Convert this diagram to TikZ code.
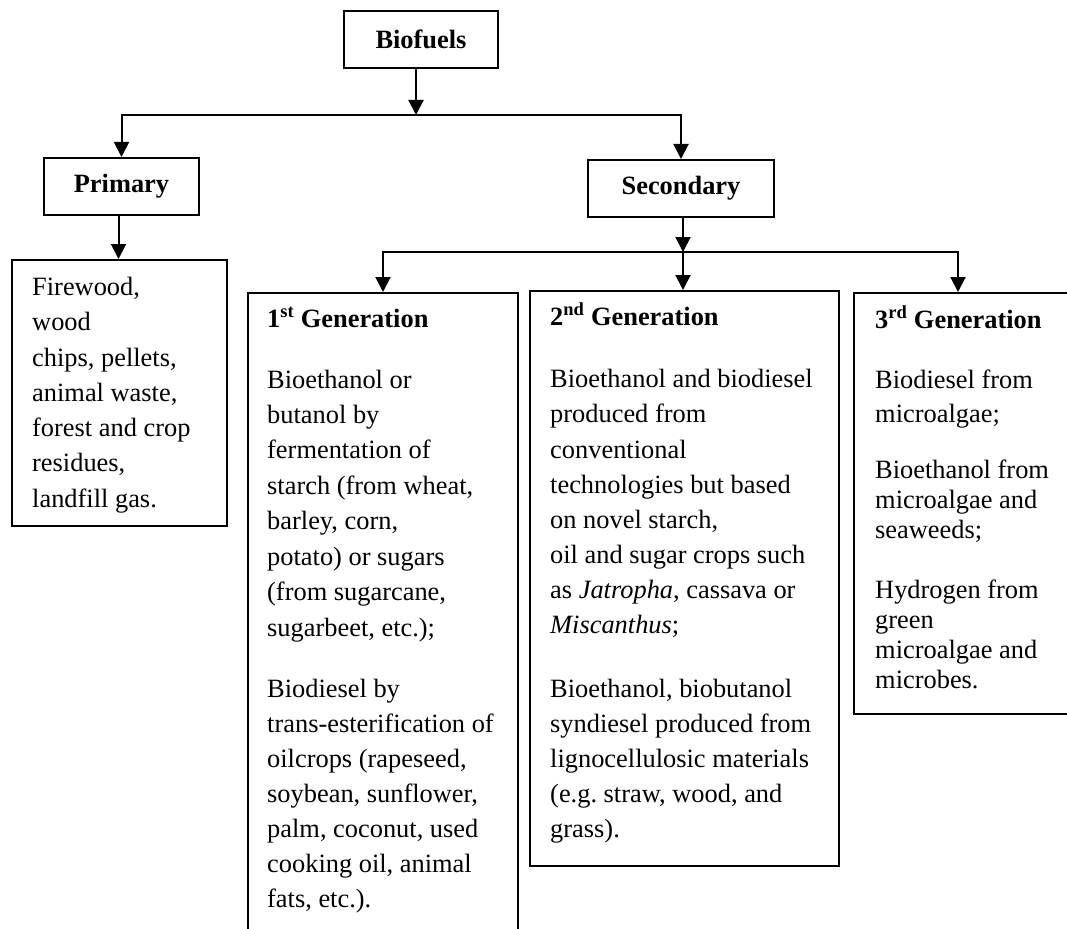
\documentclass[tikz,border=0pt]{standalone}
\usepackage{fontspec}
\setmainfont{Liberation Serif}
\usetikzlibrary{arrows.meta}
\newcommand\tline[3]{\node[txt] (#1) at (#2) {#3};}
\begin{document}
\begin{tikzpicture}[x=1pt,y=-1pt,
  box/.style={draw,line width=2pt,inner sep=0pt,anchor=north west,
    font=\fontsize{26.4}{30}\selectfont\bfseries},
  txt/.style={anchor=base west,inner sep=0pt,font=\fontsize{26.4}{30}\selectfont},
  hdr/.style={txt,font=\fontsize{26.4}{30}\selectfont\bfseries},
  arr/.style={line width=2pt,-{Triangle[width=15pt,length=15pt]}}]
\useasboundingbox (0,0) rectangle (1067,928);
% boxes
\node[box,minimum width=154pt,minimum height=57pt] (bio) at (343,10) {Biofuels};
\node[box,minimum width=155pt,minimum height=57pt] (prim) at (43,157) {Primary};
\node[box,minimum width=186pt,minimum height=57pt] (sec) at (587,159) {Secondary};
\node[box,minimum width=215pt,minimum height=266pt] (fw) at (11,259) {};
\node[box,minimum width=270pt,minimum height=700pt] (g1) at (247,292) {};
\node[box,minimum width=309pt,minimum height=575pt] (g2) at (529,290) {};
\node[box,minimum width=225pt,minimum height=421pt] (g3) at (853,292) {};
% junctions
\coordinate (j1) at (416,115);
\coordinate (j2) at (683,252);
\coordinate (g3in) at ([xshift=105pt]g3.north west);
% connectors
\draw[arr] (bio.south -| j1) -- (j1);
\draw[arr] (j1) -| (prim.north);
\draw[arr] (j1) -| (sec.north);
\draw[arr] ([xshift=-3pt]prim.south) -- ([xshift=-3pt]prim.south |- fw.north);
\draw[arr] (sec.south -| j2) -- (j2);
\draw[arr] (j2) -| (g1.north);
\draw[arr] (j2) -- (j2 |- g2.north);
\draw[arr] (j2) -| (g3in);
% Firewood box
\tline{w1}{32,295}{Firewood,}
\tline{w2}{32,330}{wood}
\tline{w3}{32,366}{chips, pellets,}
\tline{w4}{32,401}{animal waste,}
\tline{w5}{32,436}{forest and crop}
\tline{w6}{32,471}{residues,}
\tline{w7}{32,507}{landfill gas.}
% 1st generation
\node[hdr] (a0) at (267,327) {1\textsuperscript{st} Generation};
\tline{a1}{267,388}{Bioethanol or}
\tline{a2}{267,423}{butanol by}
\tline{a3}{267,458}{fermentation of}
\tline{a4}{267,494}{starch (from wheat,}
\tline{a5}{267,529}{barley, corn,}
\tline{a6}{267,565}{potato) or sugars}
\tline{a7}{267,600}{(from sugarcane,}
\tline{a8}{267,636}{sugarbeet, etc.);}
\tline{a9}{267,697}{Biodiesel by}
\tline{a10}{267,732}{trans-esterification of}
\tline{a11}{267,767}{oilcrops (rapeseed,}
\tline{a12}{267,802}{soybean, sunflower,}
\tline{a13}{267,837}{palm, coconut, used}
\tline{a14}{267,872}{cooking oil, animal}
\tline{a15}{267,907}{fats, etc.).}
% 2nd generation
\node[hdr] (b0) at (550,325) {2\textsuperscript{nd} Generation};
\tline{b1}{550,387}{Bioethanol and biodiesel}
\tline{b2}{550,422}{produced from}
\tline{b3}{550,458}{conventional}
\tline{b4}{550,493}{technologies but based}
\tline{b5}{550,528}{on novel starch,}
\tline{b6}{550,563}{oil and sugar crops such}
\tline{b7}{550,598}{as \textit{Jatropha}, cassava or}
\tline{b8}{550,633}{\textit{Miscanthus};}
\tline{b9}{550,697}{Bioethanol, biobutanol}
\tline{b10}{550,732}{syndiesel produced from}
\tline{b11}{550,767}{lignocellulosic materials}
\tline{b12}{550,802}{(e.g.\ straw, wood, and}
\tline{b13}{550,837}{grass).}
% 3rd generation
\node[hdr] (c0) at (875,328) {3\textsuperscript{rd} Generation};
\tline{c1}{875,388}{Biodiesel from}
\tline{c2}{875,422}{microalgae;}
\tline{c3}{875,478}{Bioethanol from}
\tline{c4}{875,508}{microalgae and}
\tline{c5}{875,538}{seaweeds;}
\tline{c6}{875,598}{Hydrogen from}
\tline{c7}{875,628}{green}
\tline{c8}{875,658}{microalgae and}
\tline{c9}{875,688}{microbes.}
\end{tikzpicture}
\end{document}
